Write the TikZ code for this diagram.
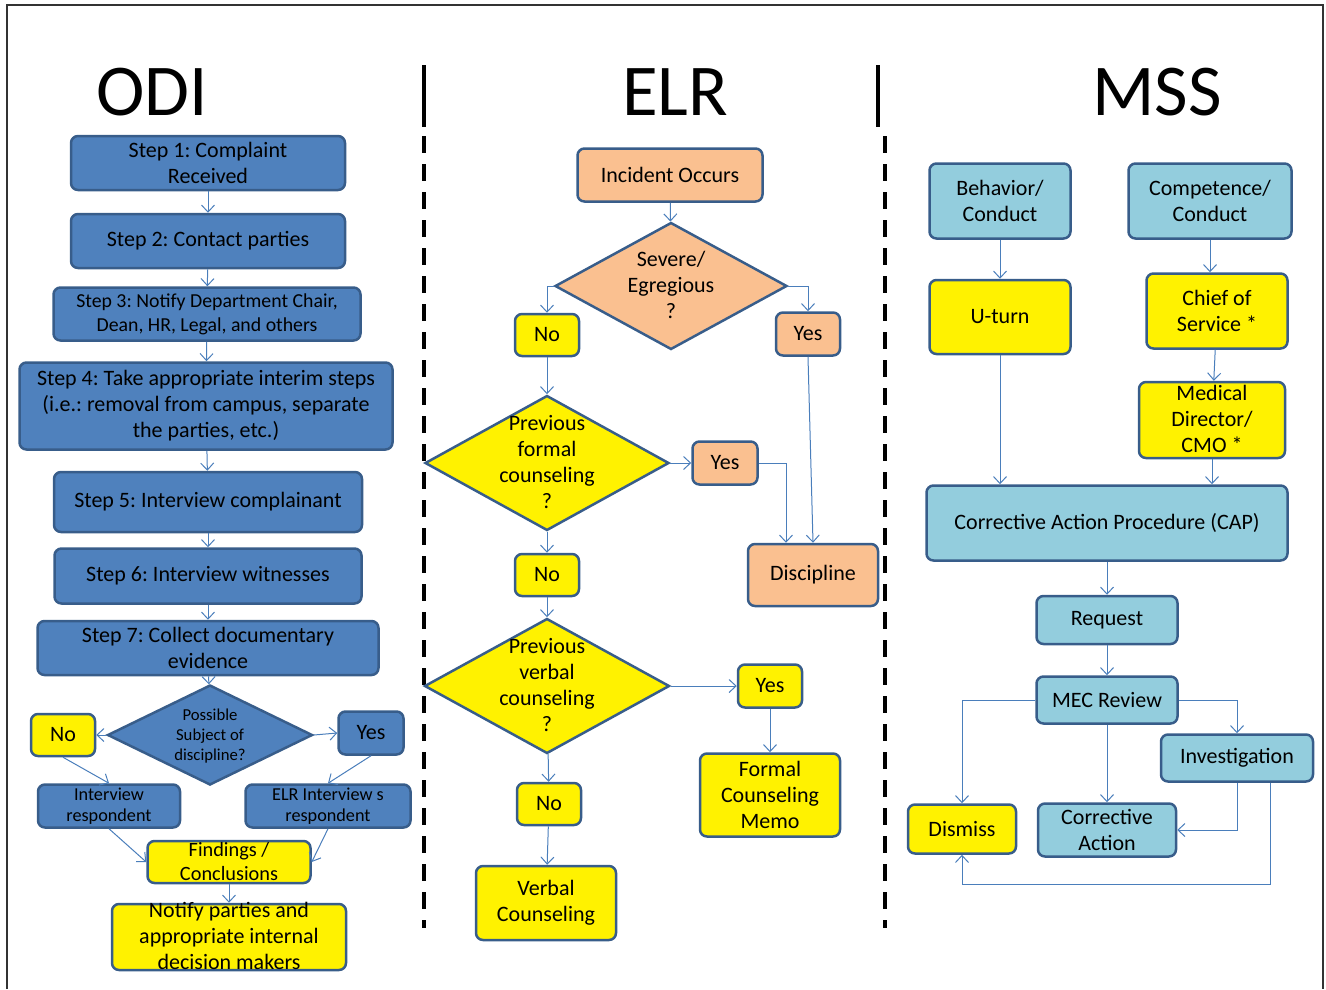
\documentclass[tikz,border=0pt]{standalone}
\usepackage{fontspec}
\setmainfont{Carlito}
\frenchspacing
\usetikzlibrary{shapes.geometric,arrows.meta}
\definecolor{odiblue}{HTML}{4F81BD}
\definecolor{rim}{HTML}{385D8A}
\definecolor{peach}{HTML}{FAC090}
\definecolor{mssblue}{HTML}{93CDDD}
\definecolor{lnk}{HTML}{4A7EBB}
\newcommand{\dtext}[1]{\raisebox{\dimexpr-0.3em-7pt\relax}{\smash{\begin{tabular}{@{}c@{}}#1\end{tabular}}}}
\tikzset{
  box/.style={draw=rim, line width=2.5pt, rounded corners=7pt, inner sep=0pt, align=center,
    font=\fontsize{22}{26}\selectfont},
  bluebox/.style={box, fill=odiblue},
  yelbox/.style={box, fill=yellow},
  peachbox/.style={box, fill=peach},
  mssbox/.style={box, fill=mssblue},
  dia/.style={diamond, draw=rim, line width=2.5pt, inner sep=0pt, align=center,
    font=\fontsize{22}{26}\selectfont},
  arr/.style={draw=lnk, line width=1pt, -{Straight Barb[length=7pt,width=13pt]}},
  title/.style={font=\fontsize{73}{80}\selectfont, inner sep=0pt},
}
\begin{document}
\begin{tikzpicture}[x=1pt,y=-1pt]
\useasboundingbox (0,0) rectangle (1326,989);
% frame and column separators
\draw[line width=2pt, black!80] (7,989) -- (7,5) -- (1323,5) -- (1323,989);
\draw[line width=4.5pt] (424,65) -- (424,127);
\draw[line width=4pt, dash pattern=on 17pt off 11pt] (424,136) -- (424,928);
\draw[line width=4.5pt] (878,65) -- (878,127);
\draw[line width=4pt, dash pattern=on 17pt off 11pt] (885,136) -- (885,928);
\node[title] (todi) at (152,92) {ODI};
\node[title] (telr) at (675,92) {ELR};
\node[title] (tmss) at (1157,92) {MSS};

% ODI
\node[bluebox, minimum width=274, minimum height=54] (s1) at (208,163) {Step 1: Complaint\\Received};
\node[bluebox, minimum width=274, minimum height=54] (s2) at (208,241) {Step 2: Contact parties};
\node[bluebox, minimum width=307, minimum height=53, font=\fontsize{19.8}{24}\selectfont] (s3) at (207,314) {Step 3: Notify Department Chair,\\Dean, HR, Legal, and others};
\node[bluebox, minimum width=373, minimum height=87] (s4) at (206,406) {Step 4: Take appropriate interim steps\\(i.e.: removal from campus, separate\\the parties, etc.)};
\node[bluebox, minimum width=308, minimum height=60] (s5) at (208,502) {Step 5: Interview complainant};
\node[bluebox, minimum width=307, minimum height=55] (s6) at (208,576) {Step 6: Interview witnesses};
\node[bluebox, minimum width=341, minimum height=54] (s7) at (208,648) {Step 7: Collect documentary\\evidence};
\node[dia, fill=odiblue, minimum width=205, minimum height=100, font=\fontsize{16.7}{20}\selectfont] (pd) at (210,735) {\dtext{Possible\\Subject of\\discipline?}};
\node[yelbox, minimum width=64, minimum height=42] (ono) at (63,735) {No};
\node[bluebox, minimum width=65, minimum height=43] (oyes) at (371,733) {Yes};
\node[bluebox, minimum width=142, minimum height=43, font=\fontsize{18.2}{21}\selectfont] (ir) at (109,806) {Interview\\respondent};
\node[bluebox, minimum width=165, minimum height=43, font=\fontsize{18.2}{21}\selectfont] (elri) at (328,806) {ELR Interview s\\respondent};
\node[yelbox, minimum width=163, minimum height=42, font=\fontsize{20.3}{24}\selectfont] (fc) at (229,862) {\dtext{Findings /\\Conclusions}};
\node[yelbox, minimum width=234, minimum height=66] (np) at (229,937) {\dtext{Notify parties and\\appropriate internal\\decision makers}};
\draw[arr] (s1) -- (s2);
\draw[arr] (s2) -- (s3);
\draw[arr] (s3) -- (s4);
\draw[arr] (s4) -- (s5);
\draw[arr] (s5) -- (s6);
\draw[arr] (s6) -- (s7);
\draw[arr] (s7) -- (pd);
\draw[arr] (pd.west) -- (ono.east);
\draw[arr] (pd.east) -- (oyes.west);
\draw[arr] (ono.south) -- (ir.north);
\draw[arr] (oyes.south) -- (elri.north);
\draw[arr] (ir.south) -- (fc.west);
\draw[arr] (elri.south) -- (fc.east);
\draw[arr] (fc) -- (np);

% ELR
\node[peachbox, minimum width=185, minimum height=53] (inc) at (670,175) {Incident Occurs};
\node[dia, fill=peach, minimum width=232, minimum height=127] (sev) at (671,286) {\dtext{Severe/\\Egregious\\?}};
\node[yelbox, minimum width=64, minimum height=42] (eno) at (547,335) {No};
\node[peachbox, minimum width=64, minimum height=43] (eyes) at (808,334) {Yes};
\node[dia, fill=yellow, minimum width=244, minimum height=135] (pf) at (547,463) {\dtext{Previous\\formal\\counseling\\?}};
\node[peachbox, minimum width=65, minimum height=43] (fyes) at (725,463) {Yes};
\node[peachbox, minimum width=130, minimum height=62] (disc) at (813,575) {Discipline};
\node[yelbox, minimum width=64, minimum height=42] (fno) at (547,575) {No};
\node[dia, fill=yellow, minimum width=245, minimum height=135] (pv) at (547,686) {\dtext{Previous\\verbal\\counseling\\?}};
\node[yelbox, minimum width=64, minimum height=43] (vyes) at (770,686) {Yes};
\node[yelbox, minimum width=140, minimum height=83] (fm) at (770,795) {Formal\\Counseling\\Memo};
\node[yelbox, minimum width=64, minimum height=42] (vno) at (549,804) {No};
\node[yelbox, minimum width=140, minimum height=74] (vc) at (546,903) {Verbal\\Counseling};
\draw[arr] (inc) -- (sev);
\draw[arr] (sev.west) -| (eno.north);
\draw[arr] (sev.east) -| (eyes.north);
\draw[arr] (eno) -- (pf);
\draw[arr] (pf.east) -- (fyes.west);
\draw[arr] (fyes.east) -| ([xshift=-27pt]disc.north);
\draw[arr] (eyes.south) -- (disc.north);
\draw[arr] (pf) -- (fno);
\draw[arr] (fno) -- (pv);
\draw[arr] (pv.east) -- (vyes.west);
\draw[arr] (vyes) -- (fm);
\draw[arr] (pv) -- (vno);
\draw[arr] (vno) -- (vc);

% MSS
\node[mssbox, minimum width=141, minimum height=75] (beh) at (1000,201) {Behavior/\\Conduct};
\node[mssbox, minimum width=163, minimum height=75] (comp) at (1210,201) {Competence/\\Conduct};
\node[yelbox, minimum width=141, minimum height=74] (ut) at (1000,317) {U-turn};
\node[yelbox, minimum width=141, minimum height=75] (chief) at (1217,311) {Chief of\\Service *};
\node[yelbox, minimum width=146, minimum height=76] (md) at (1212,420) {\dtext{Medical\\Director/\\CMO *}};
\node[mssbox, minimum width=361, minimum height=75] (cap) at (1107,523) {Corrective Action Procedure (CAP)};
\node[mssbox, minimum width=141, minimum height=48] (req) at (1107,620) {Request};
\node[mssbox, minimum width=141, minimum height=47] (mec) at (1107,700) {MEC Review};
\node[mssbox, minimum width=152, minimum height=47] (inv) at (1237,758) {Investigation};
\node[yelbox, minimum width=108, minimum height=49] (dis) at (962,829) {Dismiss};
\node[mssbox, minimum width=138, minimum height=53] (ca) at (1107,830) {Corrective\\Action};
\draw[arr] (beh) -- (ut);
\draw[arr] (comp.south) -- (comp.south |- chief.north);
\draw[arr] (ut.south) -- (ut.south |- cap.north);
\draw[arr] (chief) -- (md);
\draw[arr] (md.south) -- (md.south |- cap.north);
\draw[arr] (cap) -- (req);
\draw[arr] (req) -- (mec);
\draw[arr] (mec.west) -| (dis.north);
\draw[arr] (mec.east) -| (inv.north);
\draw[arr] (mec) -- (ca);
\draw[arr] (inv.south) |- (ca.east);
\draw[arr] ([xshift=33pt]inv.south) -- ++(0,102) -| (dis.south);
\end{tikzpicture}
\end{document}
